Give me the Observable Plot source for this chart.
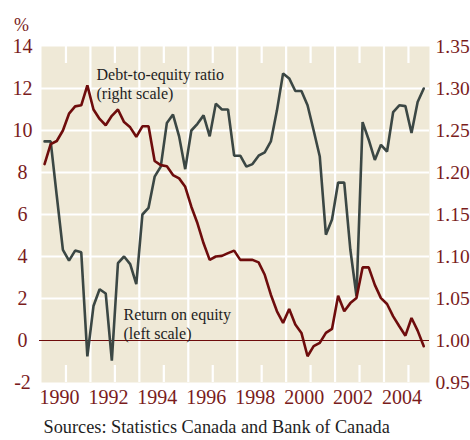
<!DOCTYPE html>
<html><head><meta charset="utf-8">
<script src="https://cdn.jsdelivr.net/npm/d3@7"></script>
<script src="https://cdn.jsdelivr.net/npm/@observablehq/plot@0.6"></script>
<style>html,body{margin:0;padding:0;background:#fff;overflow:hidden}</style>
</head><body><div id="chart"></div>
<script>
// Quarterly data, 1990Q1 – 2005Q3
const startYear = 1990;
const returnOnEquity = [ // %, left scale
  8.4, 9.35, 9.5, 10.0, 10.8, 11.15, 11.2, 12.15,
  11.0, 10.55, 10.25, 10.7, 11.0, 10.4, 10.15, 9.7,
  10.2, 10.2, 8.55, 8.35, 8.3, 7.88, 7.72, 7.32,
  6.37, 5.58, 4.63, 3.84, 4.0, 4.03, 4.16, 4.28,
  3.84, 3.84, 3.84, 3.72, 3.13, 2.18, 1.39, 0.84,
  1.5, 0.76, 0.36, -0.75, -0.27, -0.11, 0.36, 0.55,
  2.13, 1.39, 1.78, 2.02, 3.48, 3.48, 2.65, 2.02,
  1.74, 1.15, 0.68, 0.23, 1.07, 0.47, -0.27
];
const debtToEquity = [ // ratio, right scale
  1.237, 1.237, 1.172, 1.108, 1.095, 1.107, 1.105, 0.981,
  1.041, 1.061, 1.056, 0.976, 1.092, 1.100, 1.091, 1.067,
  1.150, 1.158, 1.195, 1.207, 1.259, 1.269, 1.243, 1.204,
  1.250, 1.258, 1.268, 1.243, 1.282, 1.275, 1.275, 1.220,
  1.220, 1.207, 1.210, 1.220, 1.224, 1.237, 1.274, 1.318,
  1.312, 1.297, 1.297, 1.280, 1.250, 1.219, 1.126, 1.144,
  1.188, 1.188, 1.108, 1.053, 1.260, 1.239, 1.215, 1.233,
  1.225, 1.272, 1.280, 1.279, 1.247, 1.284, 1.300
];
const leftTicks = [-2, 0, 2, 4, 6, 8, 10, 12, 14];
const rightTicks = ["0.95", "1.00", "1.05", "1.10", "1.15", "1.20", "1.25", "1.30", "1.35"];
const yearLabels = [1990, 1992, 1994, 1996, 1998, 2000, 2002, 2004];
const oddYears = [1991, 1993, 1995, 1997, 1999, 2001, 2003, 2005];
const innerGridY = [2, 4, 6, 8, 10, 12];
const innerGridX = [1992, 1994, 1996, 1998, 2000, 2002, 2004];

// right scale (ratio) mapped onto left scale (%): 1.00 ↔ 0, 1.35 ↔ 14
const toLeft = r => (r - 1) / 0.025;
const quarterTime = i => startYear + Math.floor(i / 4) + ((i % 4) + 0.5) / 4;

const roe = returnOnEquity.map((v, i) => ({t: quarterTime(i), v}));
const dte = debtToEquity.map((r, i) => ({t: quarterTime(i), v: toLeft(r)}));

const RED = "#6e0c0c";
const GREY = "#3b4744";
const LABEL = "#7a1c1c";
const TEXT = "#1e1e1e";
const FRAME_H = 336;

const chart = Plot.plot({
  width: 470,
  height: 440,
  marginLeft: 41,
  marginRight: 41,
  marginTop: 46,
  marginBottom: 58,
  style: {fontFamily: "'Liberation Serif', serif", background: "white", overflow: "hidden"},
  x: {domain: [1990, 2005.86], axis: null},
  y: {domain: [-2, 14], axis: null},
  marks: [
    Plot.frame({fill: "#efe9d7", stroke: null}),
    Plot.ruleY(innerGridY, {stroke: "white", strokeWidth: 2.2}),
    Plot.ruleX(innerGridX, {stroke: "white", strokeWidth: 2.2}),
    Plot.ruleX(oddYears, {stroke: "white", strokeWidth: 2.2, insetBottom: FRAME_H - 17}),
    Plot.ruleX(oddYears, {stroke: "white", strokeWidth: 2.2, insetTop: FRAME_H - 17}),
    Plot.ruleY([0], {stroke: RED, strokeWidth: 1.2, insetLeft: -2}),
    Plot.line(dte, {x: "t", y: "v", stroke: GREY, strokeWidth: 2.6, strokeLinejoin: "miter"}),
    Plot.line(roe, {x: "t", y: "v", stroke: RED, strokeWidth: 2.6, strokeLinejoin: "miter"}),
    // left axis labels
    Plot.text(leftTicks, {y: d => d, text: d => String(d), frameAnchor: "left", dx: -19, textAnchor: "middle", fill: LABEL, fontSize: 20}),
    // right axis labels
    Plot.text(rightTicks, {y: d => toLeft(+d), text: d => d, frameAnchor: "right", dx: 6, textAnchor: "start", fill: LABEL, fontSize: 19.5}),
    // year labels
    Plot.text(yearLabels, {x: d => d, text: d => String(d), frameAnchor: "bottom", dy: 21, dx: -2, textAnchor: "start", fill: LABEL, fontSize: 20}),
    // unit
    Plot.text(["%"], {text: d => d, frameAnchor: "top-left", dx: -20, dy: -28, textAnchor: "middle", fill: LABEL, fontSize: 18}),
    // annotations
    Plot.text(["Debt-to-equity ratio"], {text: d => d, frameAnchor: "top-left", dx: 55, dy: 22, textAnchor: "start", fill: TEXT, fontSize: 16}),
    Plot.text(["(right scale)"], {text: d => d, frameAnchor: "top-left", dx: 55, dy: 41, textAnchor: "start", fill: TEXT, fontSize: 16}),
    Plot.text(["Return on equity"], {text: d => d, frameAnchor: "top-left", dx: 82, dy: 262, textAnchor: "start", fill: TEXT, fontSize: 16}),
    Plot.text(["(left scale)"], {text: d => d, frameAnchor: "top-left", dx: 82, dy: 281, textAnchor: "start", fill: TEXT, fontSize: 16}),
    // source
    Plot.text(["Sources: Statistics Canada and Bank of Canada"], {text: d => d, frameAnchor: "bottom-left", dx: 2, dy: 50, textAnchor: "start", fill: TEXT, fontSize: 18.3})
  ]
});
document.getElementById("chart").appendChild(chart);
</script>
</body></html>
